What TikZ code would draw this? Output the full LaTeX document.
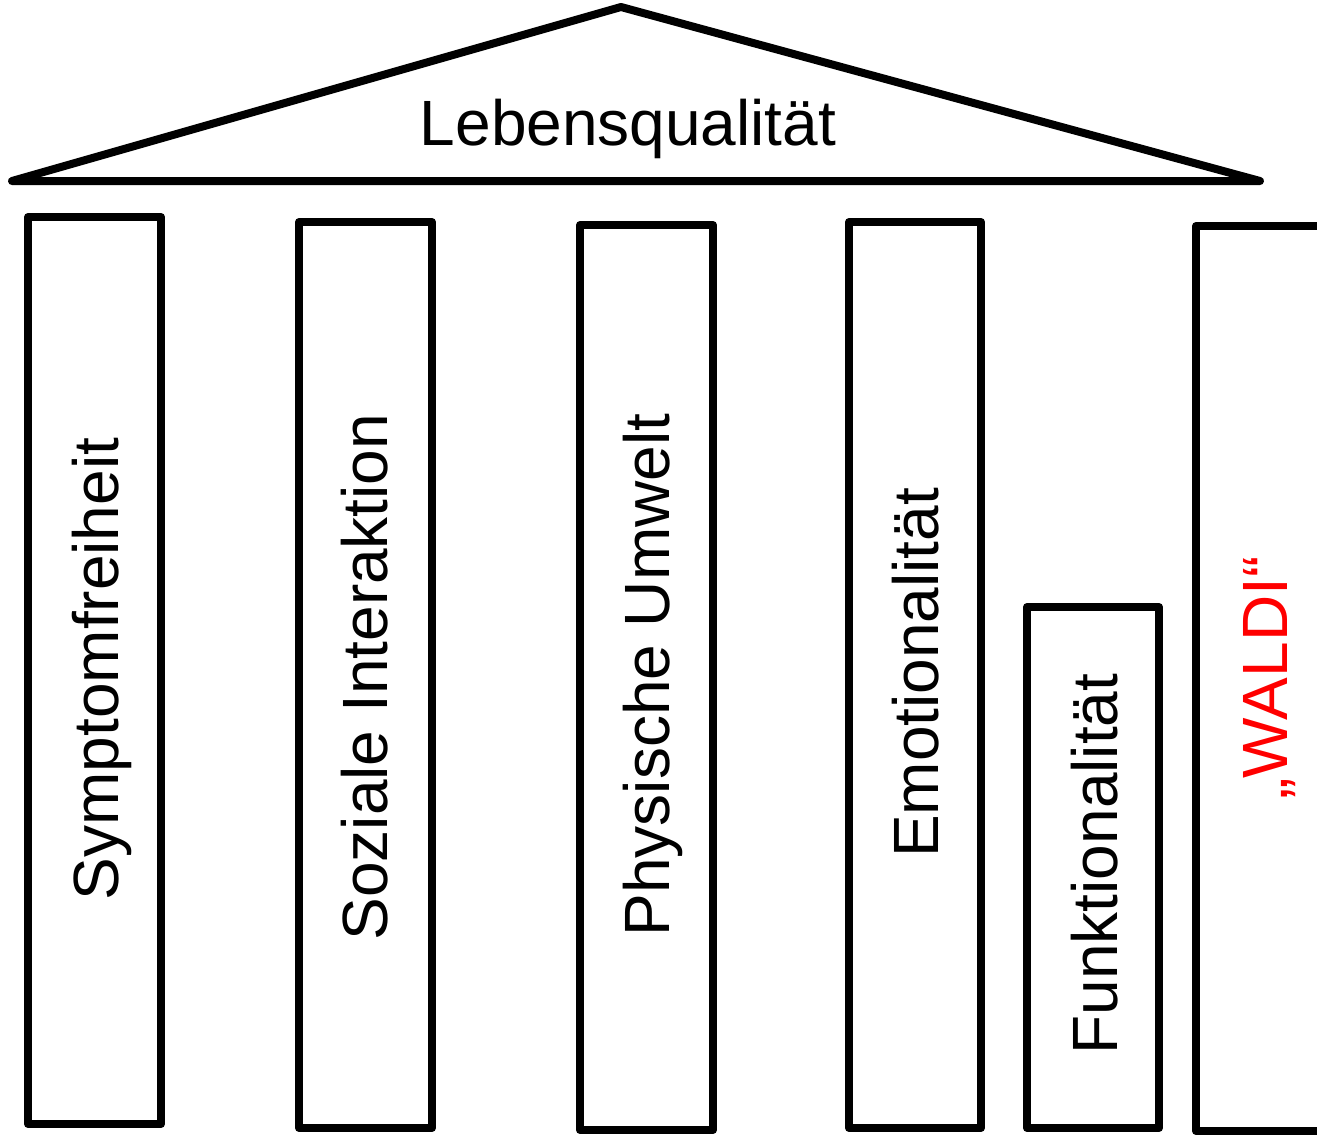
\documentclass[tikz,border=0pt]{standalone}
\usepackage{fontspec}
\setmainfont{Liberation Sans}
\usetikzlibrary{positioning}
\begin{document}
\begin{tikzpicture}[x=1pt,y=-1pt,line width=8pt,line join=round,line cap=round,
  saeule/.style={draw,line width=8pt},
  schrift/.style={inner sep=0pt,anchor=base,font=\fontsize{64}{76}\selectfont},
  stehend/.style={schrift,rotate=90}]
  \clip (0,0) rectangle (1317,1136);
  % Dach
  \coordinate (D_l) at (12,181);
  \coordinate (D_t) at (621,7);
  \coordinate (D_r) at (1260,181);
  \draw (D_l) -- (D_t) -- (D_r) -- cycle;
  \node [schrift] (LQ) at (628,145) {Lebensqualität};
  % Saeulen
  \draw [saeule] (28,217) rectangle (161,1124);
  \draw [saeule] (299,222) rectangle (432,1128);
  \draw [saeule] (580,225) rectangle (713,1130);
  \draw [saeule] (849,222) rectangle (981,1128);
  \draw [saeule] (1027,607) rectangle (1159,1128);
  \draw [saeule] (1350,226) -- (1196,226) -- (1196,1131) -- (1350,1131);
  % Beschriftung
  \node [stehend] (S_1) at (118,669) {Symptomfreiheit};
  \node [stehend] (S_2) at (387,677) {Soziale Interaktion};
  \node [stehend] (S_3) at (669,675) {Physische Umwelt};
  \node [stehend] (S_4) at (938,673) {Emotionalität};
  \node [stehend] (S_5) at (1117,864) {Funktionalität};
  \node [stehend,text=red] (S_6) at (1287,678) {„WALDI“};
\end{tikzpicture}
\end{document}
